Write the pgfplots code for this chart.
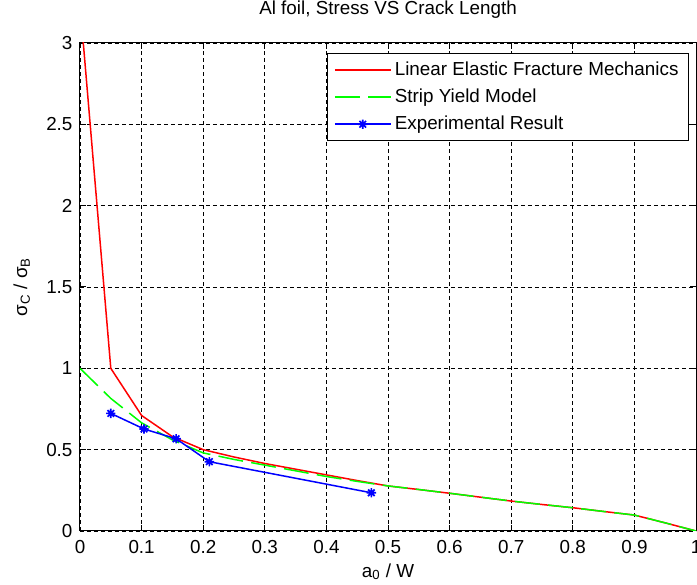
\documentclass[border=0pt]{standalone}
\usepackage{fontspec}
\setmainfont{Liberation Sans}
\usepackage{pgfplots}
\pgfplotsset{compat=1.18}

% MATLAB style asterisk: + and x on top of each other
\pgfdeclareplotmark{mstar}{%
  \pgfpathmoveto{\pgfqpoint{-\pgfplotmarksize}{0pt}}%
  \pgfpathlineto{\pgfqpoint{\pgfplotmarksize}{0pt}}%
  \pgfpathmoveto{\pgfqpoint{0pt}{-\pgfplotmarksize}}%
  \pgfpathlineto{\pgfqpoint{0pt}{\pgfplotmarksize}}%
  \pgfpathmoveto{\pgfqpoint{-0.707\pgfplotmarksize}{-0.707\pgfplotmarksize}}%
  \pgfpathlineto{\pgfqpoint{0.707\pgfplotmarksize}{0.707\pgfplotmarksize}}%
  \pgfpathmoveto{\pgfqpoint{-0.707\pgfplotmarksize}{0.707\pgfplotmarksize}}%
  \pgfpathlineto{\pgfqpoint{0.707\pgfplotmarksize}{-0.707\pgfplotmarksize}}%
  \pgfusepathqstroke}

\begin{document}
\begin{tikzpicture}
\begin{axis}[
  name=ax,
  scale only axis,
  width=369.6pt, height=292.8pt,
  xmin=0, xmax=1, ymin=0, ymax=3,
  xtick={0,0.1,0.2,0.3,0.4,0.5,0.6,0.7,0.8,0.9,1},
  ytick={0,0.5,1,1.5,2,2.5,3},
  tick align=inside,
  major tick length=3.6pt,
  tick style={black, line width=0.6pt},
  axis line style={line width=0.6pt},
  grid=major,
  grid style={black, line width=0.5pt, dash pattern=on 2.4pt off 1.8pt},
  font=\fontsize{11.3}{13}\selectfont,
  /pgf/number format/assume math mode=true,
  xticklabel style={yshift=-2pt},
  yticklabel style={xshift=-1pt},
  title={Al foil, Stress VS Crack Length},
  title style={at={(axis description cs:0.5,1.0369)}, anchor=base},
  xlabel={a\textsubscript{0} / W},
  xlabel style={at={(axis description cs:0.5,-0.0943)}, anchor=base},
  ylabel={σ\textsubscript{C} / σ\textsubscript{B}},
  ylabel style={at={(axis description cs:-0.086,0.5)}, anchor=base},
  legend cell align=left,
  legend style={at={(axis description cs:0.9886,0.979)}, anchor=north east,
    draw=black, line width=0.6pt, inner xsep=4pt, inner ysep=4pt,
    row sep=4.4pt,
    nodes={inner xsep=2pt, inner ysep=0pt, text height=9pt, text depth=2.8pt},
    font=\fontsize{11.3}{13}\selectfont},
  legend image code/.code={
    \draw[mark repeat=2, mark phase=2, #1]
      plot coordinates {(0cm,0cm) (0.59cm,0cm) (1.18cm,0cm)};},
]
% Linear elastic fracture mechanics
\addplot[red, line width=0.9pt] coordinates {
  (0,3.24) (0.05,1.0) (0.1,0.71) (0.15,0.58) (0.2,0.50) (0.25,0.455)
  (0.3,0.415) (0.35,0.38) (0.4,0.345) (0.45,0.31) (0.5,0.277)
  (0.55,0.255) (0.6,0.232) (0.65,0.208) (0.7,0.184) (0.75,0.163)
  (0.8,0.143) (0.85,0.12) (0.9,0.098) (0.95,0.05) (1.0,0.0)
};
% Strip yield model
\addplot[green, line width=0.9pt, dash pattern=on 15pt off 5pt] coordinates {
  (0,1.0) (0.05,0.815) (0.1,0.665) (0.15,0.56) (0.2,0.48) (0.25,0.44)
  (0.3,0.405) (0.35,0.37) (0.4,0.335) (0.45,0.305) (0.5,0.277)
  (0.55,0.255) (0.6,0.232) (0.65,0.208) (0.7,0.184) (0.75,0.163)
  (0.8,0.143) (0.85,0.12) (0.9,0.098) (0.95,0.05) (1.0,0.0)
};
% Experimental
\addplot[blue, line width=0.9pt, mark=mstar, mark size=2.8pt,
  mark options={solid, line width=1pt}] coordinates {
  (0.05,0.723) (0.104,0.627) (0.156,0.567) (0.21,0.426) (0.473,0.235)
};
\legend{Linear Elastic Fracture Mechanics, Strip Yield Model, Experimental Result}
\end{axis}
\pgfresetboundingbox
\useasboundingbox ([shift={(-48pt,-32.4pt)}]ax.south west)
  rectangle ([shift={(0.6pt,25.8pt)}]ax.north east);
\end{tikzpicture}
\end{document}
